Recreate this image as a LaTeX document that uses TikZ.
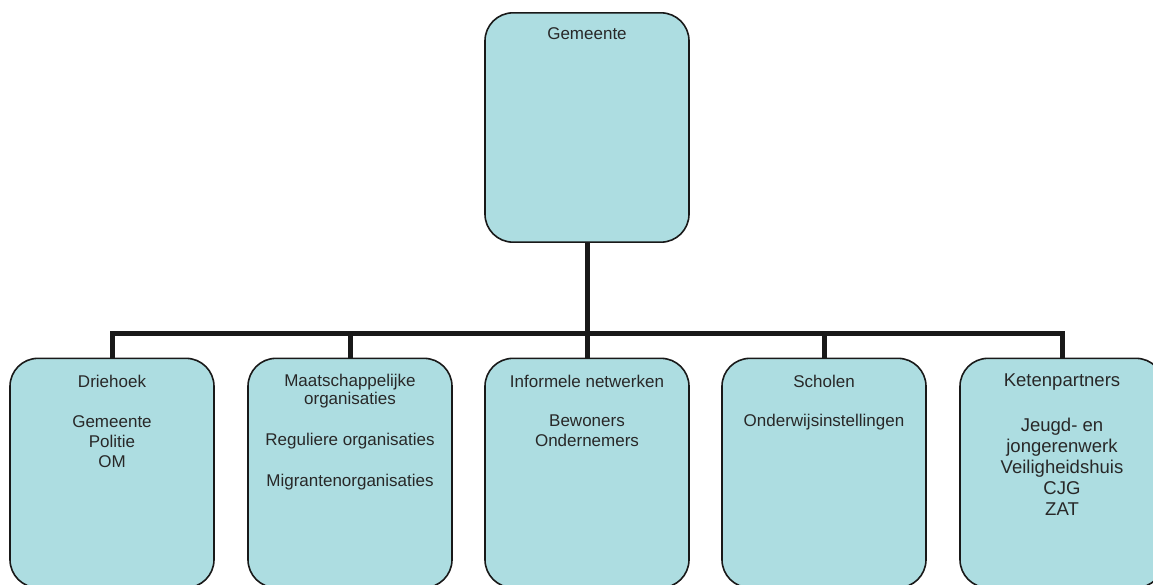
\documentclass[tikz,border=0pt]{standalone}
\usepackage{fontspec}
\setmainfont{Liberation Sans}
\definecolor{boxfill}{RGB}{173,221,225}
\definecolor{boxtext}{RGB}{40,40,40}
\tikzset{
  orgbox/.style={draw=black!90, line width=1.2pt, fill=boxfill, rounded corners=21pt,
    minimum width=153pt, minimum height=172pt, inner sep=0pt},
  orgtext/.style={anchor=north, align=center, text=boxtext, inner sep=0pt,
    font=\fontsize{12.75}{15}\selectfont},
  conn/.style={line width=3.75pt, black!90, line join=miter}
}
\begin{document}
\begin{tikzpicture}[x=0.75pt, y=-0.75pt]
    \useasboundingbox (0,0) rectangle (1153,585);

    % Top box
    \node[orgbox] (gemeente) at (587,127.5) {};
    \node[orgtext] (gemeentetxt) at (587,27.8) {Gemeente};

    % Bottom boxes
    \node[orgbox] (driehoek) at (112,473) {};
    \node[orgbox] (maatsch) at (350,473) {};
    \node[orgbox] (informeel) at (587,473) {};
    \node[orgbox] (scholen) at (824,473) {};
    \node[orgbox] (keten) at (1062,473) {};

    % Connectors
    \coordinate (bus) at (587,333);
    \draw[conn] (gemeente.south) -- (gemeente.south |- bus);
    \draw[conn] (driehoek.north) |- (bus) -| (keten.north);
    \draw[conn] (maatsch.north) -- (maatsch.north |- bus);
    \draw[conn] (informeel.north) -- (informeel.north |- bus);
    \draw[conn] (scholen.north) -- (scholen.north |- bus);

    % Texts
    \node[orgtext] (driehoektxt) at (112,374.8) {Driehoek\\[15pt]Gemeente\\Politie\\OM};
    \node[orgtext] (maatschtxt) at (350,373.6) {Maatschappelijke\\[-1pt]organisaties\\[15.5pt]Reguliere organisaties\\[15.75pt]Migrantenorganisaties};
    \node[orgtext] (informeeltxt) at (587,374.8) {Informele netwerken\\[14.25pt]Bewoners\\Ondernemers};
    \node[orgtext] (scholentxt) at (824,374.8) {Scholen\\[14.25pt]Onderwijsinstellingen};
    \node[orgtext, font=\fontsize{13.9}{15.75}\selectfont] (ketentxt) at (1062,373.7) {Ketenpartners\\[18pt]Jeugd- en\\jongerenwerk\\Veiligheidshuis\\CJG\\ZAT};
\end{tikzpicture}
\end{document}
